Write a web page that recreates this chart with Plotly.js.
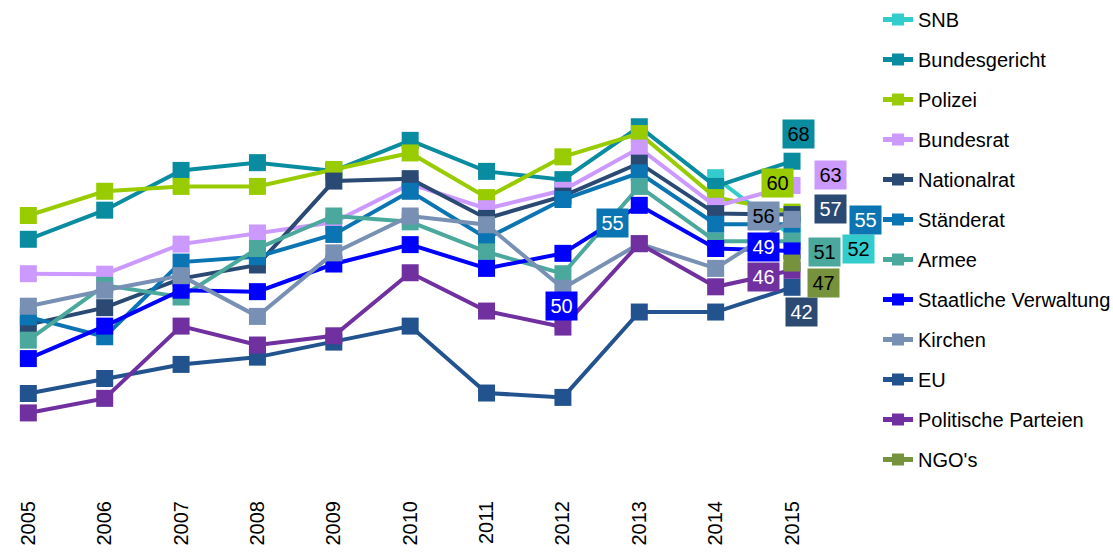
<!DOCTYPE html>
<html>
<head>
<meta charset="utf-8">
<script src="https://cdn.plot.ly/plotly-3.0.1.min.js"></script>
<style>html,body{margin:0;padding:0;background:#fff;}#chart{width:1113px;height:554px;}</style>
</head>
<body>
<div id="chart"></div>
<script>
const years = ['2005','2006','2007','2008','2009','2010','2011','2012','2013','2014','2015'];

const seriesNames = ['SNB','Bundesgericht','Polizei','Bundesrat','Nationalrat','Ständerat','Armee','Staatliche Verwaltung','Kirchen','EU','Politische Parteien',"NGO's"];

const snb          = [null, null, null, null, null, null, null, null, null, 64.6, 52.5];
const bundesgericht= [51.9, 57.9, 66.1, 67.7, 66.0, 72.3, 65.9, 64.2, 75.1, 62.8, 68.0];
const polizei      = [56.8, 61.8, 62.8, 62.8, 66.3, 69.7, 60.5, 68.9, 73.7, 60.5, 57.5];
const bundesrat    = [44.8, 44.7, 50.9, 53.2, 55.4, 63.3, 58.2, 62.0, 70.7, 58.7, 63.0];
const nationalrat  = [34.3, 37.8, 43.8, 46.6, 63.9, 64.4, 56.2, 60.8, 67.6, 57.2, 57.0];
const staenderat   = [35.9, 31.8, 47.2, 48.3, 52.9, 61.8, 52.1, 60.1, 65.6, 55.0, 55.0];
const armee        = [31.1, 42.4, 40.0, 50.0, 56.7, 55.5, 49.3, 44.8, 62.8, 51.5, 51.5];
const verwaltung   = [27.3, 34.0, 41.4, 41.1, 46.8, 50.8, 45.9, 49.0, 58.9, 50.0, 49.5];
const kirchen      = [38.1, 41.4, 44.4, 36.0, 49.1, 56.7, 54.9, 41.8, 51.0, 45.9, 56.0];
const eu           = [20.1, 23.2, 26.1, 27.6, 30.7, 34.0, 20.2, 19.3, 36.9, 36.9, 42.0];
const parteien     = [16.1, 19.1, 34.0, 30.1, 32.0, 45.0, 37.1, 33.8, 51.0, 42.1, 45.5];
const ngo          = [null, null, null, null, null, null, null, null, null, null, 47.0];

// value labels shown at 2015
const labels2015 = ['52','68','60','63','57','55','51','49','56','42','46','47'];
// extra labels: [series index, year index, text]
const extraLabels = [[5, 8, '55'], [7, 7, '50']];

const colors = ['#33CCCC','#0A8CA0','#99CC00','#CC99FF','#2B4A73','#0A75B2','#4BA89C','#0000FF','#7890B4','#23538F','#7030A0','#76923C'];
const labelBg = ['#33CCCC','#0A8CA0','#99CC00','#CC99FF','#2B4A73','#0A75B2','#4BA89C','#0000FF','#7890B4','#2C4A72','#7030A0','#76923C'];
const labelFont = ['#000','#000','#000','#000','#fff','#fff','#000','#fff','#000','#fff','#fff','#000'];

const allData = [snb, bundesgericht, polizei, bundesrat, nationalrat, staenderat, armee, verwaltung, kirchen, eu, parteien, ngo];

// label offsets (pixels, x right / y down) relative to the labelled point
const offsets = [[66,13],[6,-27],[-15,-29],[38,-10],[38,-6],[73,-4],[32,11],[-29,-4],[-29,-3],[9,25],[-29,7],[31,20]];
const extraOffsets = [[-27,50],[-1,53]];

const FONT = 'Liberation Sans, Arial, sans-serif';

const traces = allData.map((vals, i) => ({
  type: 'scatter',
  mode: 'lines+markers',
  name: seriesNames[i],
  legendgroup: seriesNames[i],
  x: years,
  y: vals,
  line: {color: colors[i], width: 4},
  marker: {color: colors[i], symbol: 'square', size: 17},
  connectgaps: false,
  cliponaxis: false
}));

// annotations on a category axis use the category index as x
function mkLabel(xi, y, txt, off, bg, fc) {
  return {
    x: xi, y: y, xref: 'x', yref: 'y',
    text: txt, showarrow: false,
    xshift: off[0], yshift: -off[1],
    xanchor: 'center', yanchor: 'middle',
    bgcolor: bg, width: 31, height: 28, borderpad: 0,
    font: {family: FONT, size: 20, color: fc}
  };
}

const lastIdx = years.length - 1;
const annotations = [];
allData.forEach((vals, i) => {
  annotations.push(mkLabel(lastIdx, vals[lastIdx], labels2015[i], offsets[i], labelBg[i], labelFont[i]));
});
extraLabels.forEach((e, k) => {
  const [si, yi, txt] = e;
  annotations.push(mkLabel(yi, allData[si][yi], txt, extraOffsets[k], labelBg[si], labelFont[si]));
});

const layout = {
  width: 1113, height: 554,
  margin: {l: 10, r: 253, t: 6, b: 63},
  paper_bgcolor: '#fff', plot_bgcolor: '#fff',
  font: {family: FONT, size: 20, color: '#000'},
  showlegend: true,
  legend: {
    xref: 'container', yref: 'paper',
    x: 878/1113, y: 1.0289, xanchor: 'left', yanchor: 'top',
    font: {family: FONT, size: 20, color: '#000'},
    itemsizing: 'constant', itemwidth: 30,
    tracegroupgap: 11, traceorder: 'grouped',
    maxheight: 600,
    bgcolor: 'rgba(0,0,0,0)'
  },
  xaxis: {
    type: 'category', range: [-0.24, 10.89],
    showgrid: false, zeroline: false, showline: false, ticks: '',
    ticklabelstandoff: 5,
    tickangle: -90, tickfont: {family: FONT, size: 20, color: '#000'}
  },
  yaxis: {
    range: [0, 100], showgrid: false, zeroline: false, showline: false,
    showticklabels: false, ticks: ''
  },
  annotations: annotations
};

Plotly.newPlot('chart', traces, layout, {displayModeBar: false, staticPlot: true});
</script>
</body>
</html>
